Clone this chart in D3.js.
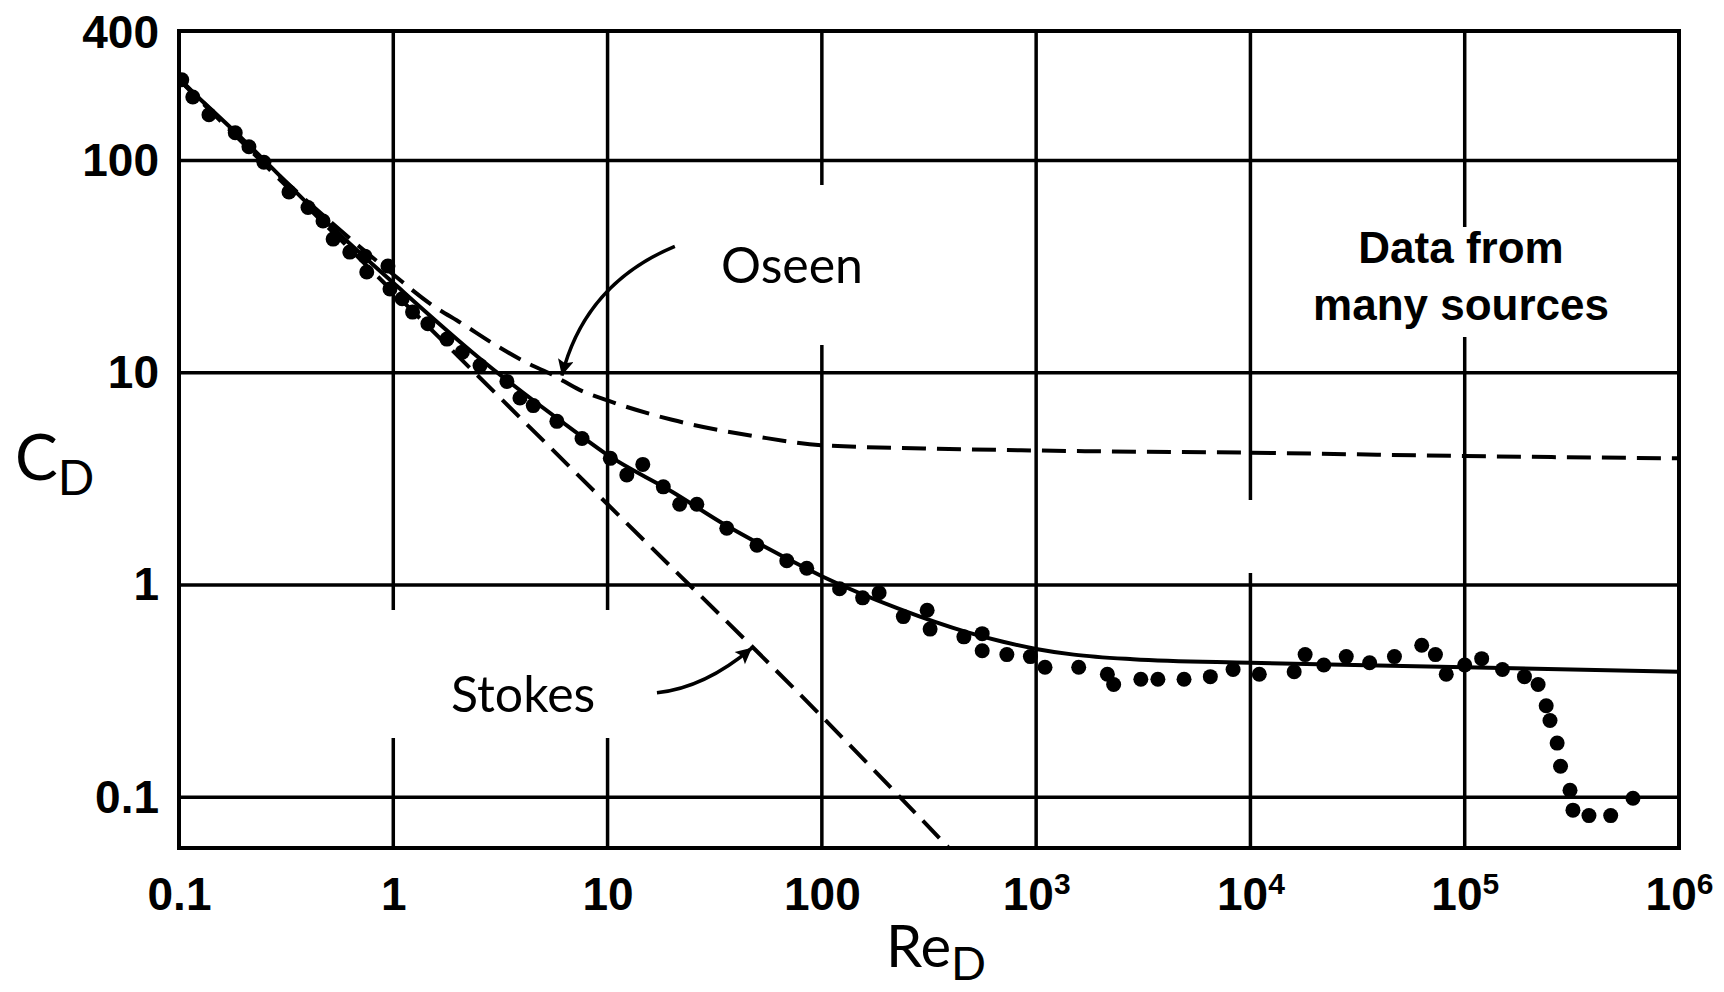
<!DOCTYPE html>
<html>
<head>
<meta charset="utf-8">
<script src="https://cdn.jsdelivr.net/npm/d3@7"></script>
<style>
  body { margin: 0; background: #fff; }
  .grid { stroke: #000; stroke-width: 3.5; }
  .frame { fill: none; stroke: #000; stroke-width: 4; }
  .knockout { fill: #fff; stroke: none; }
  .curve { fill: none; stroke: #000; stroke-width: 4; }
  .dashed { fill: none; stroke: #000; stroke-width: 4; stroke-dasharray: 24 11; }
  .dot { fill: #000; }
  .arrow { fill: none; stroke: #000; stroke-width: 3.5; }
  .tick-text { font-family: "Liberation Sans", Arial, sans-serif; font-weight: bold; font-size: 46px; fill: #000; }
  .note { font-family: Lato, "Open Sans", sans-serif; font-size: 50px; fill: #000; }
  .box-text { font-family: "Liberation Sans", Arial, sans-serif; font-weight: bold; font-size: 44px; fill: #000; }
  .axis-title { font-family: Lato, "Open Sans", sans-serif; fill: #000; }
</style>
</head>
<body>
<div id="js_chart"></div>
<script>
//////////////////////////////////////////////////////////////////////////////
// Chart values
//

var gridRe = [1, 10, 100, 1e3, 1e4, 1e5];
var gridCd = [0.1, 1, 10, 100];

var xTickValues = [0.1, 1, 10, 100, 1e3, 1e4, 1e5, 1e6];
var xTickBase   = ["0.1", "1", "10", "100", "10", "10", "10", "10"];
var xTickExp    = ["", "", "", "", "3", "4", "5", "6"];

var yTickValues = [0.1, 1, 10, 100, 400];
var yTickLabels = ["0.1", "1", "10", "100", "400"];

// measured points, "data from many sources"
var dataRe = [0.103, 0.116, 0.138, 0.183, 0.212, 0.249, 0.326, 0.40, 0.47, 0.524, 0.627, 0.737, 0.752,
              0.944, 0.965, 1.10, 1.23, 1.45, 1.78, 2.1, 2.54, 3.39, 3.9, 4.5, 5.8, 7.6,
              10.3, 12.3, 14.6, 18.2, 21.7, 26.1, 36, 49.8, 68.6, 85, 121, 155, 185, 240, 310, 320,
              460, 560, 560, 730, 940, 1100, 1580, 2150, 2300, 3080, 3700, 4900, 6500, 8300,
              1.1e4, 1.6e4, 1.8e4, 2.2e4, 2.8e4, 3.6e4, 4.7e4, 6.3e4, 7.3e4, 8.2e4, 1.0e5, 1.2e5,
              1.5e5, 1.9e5, 2.2e5, 2.4e5, 2.5e5, 2.7e5, 2.8e5, 3.1e5, 3.2e5, 3.8e5, 4.8e5, 6.1e5];
var dataCd = [240, 199, 164, 135, 116, 98, 71, 60, 51.8, 42.6, 37, 35.4, 29.8,
              31.8, 24.8, 22.3, 19.3, 17, 14.4, 12.5, 10.8, 9.1, 7.6, 7.0, 5.9, 4.9,
              3.95, 3.3, 3.7, 2.9, 2.4, 2.4, 1.85, 1.54, 1.3, 1.2, 0.96, 0.87, 0.92, 0.71, 0.76, 0.62,
              0.57, 0.59, 0.49, 0.47, 0.46, 0.41, 0.41, 0.38, 0.34, 0.36, 0.36, 0.36, 0.37, 0.40,
              0.38, 0.39, 0.47, 0.42, 0.46, 0.43, 0.46, 0.52, 0.47, 0.38, 0.42, 0.45,
              0.40, 0.37, 0.34, 0.27, 0.23, 0.18, 0.14, 0.108, 0.087, 0.082, 0.082, 0.099];

// solid curve through the data
var curveRe = [0.1, 0.2, 0.5, 1, 2.5, 7.4, 10, 20, 36, 50, 70, 100, 231, 475, 700, 1000, 1500, 2830, 1e4, 1e5, 1e6];
var curveCd = [240, 125, 50, 26.5, 11.8, 5.1, 4.1, 2.75, 1.9, 1.58, 1.32, 1.1, 0.77, 0.6, 0.54, 0.5, 0.47, 0.447, 0.43, 0.41, 0.39];

// Oseen dashed curve
var oseenRe = [0.1, 0.3, 1, 1.5, 2.1, 3, 4.3, 5.5, 7.4, 10, 20, 50, 100, 300, 1e3, 1e4, 1e5, 1e6];
var oseenCd = [244, 83, 29, 21, 17, 13.5, 11, 9.8, 8.3, 7.4, 6.0, 5.0, 4.55, 4.4, 4.3, 4.2, 4.05, 3.95];

// Stokes dashed line
var stokesRe = [0.1, 1, 10, 100, 390];
var stokesCd = [240, 24, 2.4, 0.24, 0.058];

// annotation arrows: tail, bend, tip (data coordinates)
var oseenArrow  = [[20.6, 39.4], [7.85, 26.2], [6.12, 9.69]];
var stokesArrow = [[17.0, 0.311], [28.4, 0.328], [47.2, 0.506]];

//////////////////////////////////////////////////////////////////////////////
// Drawing
//

var W = 1724, H = 992;
var plotL = 179, plotT = 31, plotR = 1679, plotB = 848;

var svg = d3.select("#js_chart").append("svg")
  .attr("width", W)
  .attr("height", H);

var x = d3.scaleLog().domain([0.1, 1e6]).range([plotL, plotR]);
var y = d3.scaleLog().domain([0.0577, 407]).range([plotB, plotT]);

var defs = svg.append("defs");

defs.append("marker")
  .attr("id", "head")
  .attr("viewBox", "0 0 10 10")
  .attr("refX", 10).attr("refY", 5)
  .attr("markerWidth", 27).attr("markerHeight", 16)
  .attr("markerUnits", "userSpaceOnUse")
  .attr("orient", "auto")
  .append("path")
  .attr("d", "M0,0 L10,5 L0,10 L2,5 z")
  .attr("fill", "#000");

defs.append("clipPath").attr("id", "plotclip")
  .append("rect")
  .attr("x", plotL).attr("y", plotT)
  .attr("width", plotR - plotL).attr("height", plotB - plotT);

// grid
svg.selectAll("line.gx").data(gridRe).enter().append("line")
  .attr("class", "grid gx")
  .attr("x1", function (d) { return x(d); }).attr("x2", function (d) { return x(d); })
  .attr("y1", plotT).attr("y2", plotB);

svg.selectAll("line.gy").data(gridCd).enter().append("line")
  .attr("class", "grid gy")
  .attr("x1", plotL).attr("x2", plotR)
  .attr("y1", function (d) { return y(d); }).attr("y2", function (d) { return y(d); });

// white boxes behind the labels (they cut the grid in the original)
var labelBoxes = [
  { x: 675, y: 185, w: 230, h: 160 },   // Oseen
  { x: 382, y: 610, w: 266, h: 128 },   // Stokes
  { x: 1310, y: 227, w: 305, h: 110 },  // Data from many sources
  { x: 1232, y: 500, w: 24, h: 73 }
];
svg.selectAll("rect.knockout").data(labelBoxes).enter().append("rect")
  .attr("class", "knockout")
  .attr("x", function (d) { return d.x; }).attr("y", function (d) { return d.y; })
  .attr("width", function (d) { return d.w; }).attr("height", function (d) { return d.h; });

svg.append("rect")
  .attr("class", "frame")
  .attr("x", plotL).attr("y", plotT)
  .attr("width", plotR - plotL).attr("height", plotB - plotT);

// curves
var line = d3.line()
  .x(function (d) { return x(d[0]); })
  .y(function (d) { return y(d[1]); })
  .curve(d3.curveMonotoneX);

var plot = svg.append("g").attr("clip-path", "url(#plotclip)");

plot.append("path").attr("class", "dashed")
  .attr("d", line(d3.zip(stokesRe, stokesCd)));

plot.append("path").attr("class", "dashed")
  .attr("d", line(d3.zip(oseenRe, oseenCd)));

plot.append("path").attr("class", "curve")
  .attr("d", line(d3.zip(curveRe, curveCd)));

plot.selectAll("circle").data(d3.zip(dataRe, dataCd)).enter().append("circle")
  .attr("class", "dot")
  .attr("cx", function (d) { return x(d[0]); })
  .attr("cy", function (d) { return y(d[1]); })
  .attr("r", 7.5);

// arrows
function arrowPath(p) {
  return "M" + x(p[0][0]) + "," + y(p[0][1]) +
         " Q" + x(p[1][0]) + "," + y(p[1][1]) +
         " " + x(p[2][0]) + "," + y(p[2][1]);
}
[oseenArrow, stokesArrow].forEach(function (a) {
  svg.append("path").attr("class", "arrow")
    .attr("d", arrowPath(a))
    .attr("marker-end", "url(#head)");
});

// axes (labels only, the grid is drawn above)
var xAxis = svg.append("g")
  .attr("transform", "translate(0," + plotB + ")")
  .call(d3.axisBottom(x).tickValues(xTickValues).tickSize(0).tickPadding(29)
    .tickFormat(function (d, i) { return xTickBase[i]; }));

var yAxis = svg.append("g")
  .attr("transform", "translate(" + plotL + ",0)")
  .call(d3.axisLeft(y).tickValues(yTickValues).tickSize(0).tickPadding(20)
    .tickFormat(function (d, i) { return yTickLabels[i]; }));

[xAxis, yAxis].forEach(function (g) {
  g.select(".domain").remove();
  g.attr("font-size", null).attr("font-family", null);
  g.selectAll("text").attr("class", "tick-text");
});

xAxis.selectAll("text").each(function (d, i) {
  if (xTickExp[i]) {
    d3.select(this).append("tspan")
      .attr("dy", -16)
      .attr("font-size", 30)
      .text(xTickExp[i]);
  }
});

// axis titles
var cd = svg.append("text").attr("class", "axis-title")
  .attr("x", 15).attr("y", 480).attr("font-size", 64).text("C");
cd.append("tspan").attr("dy", 15).attr("font-size", 48).text("D");

var re = svg.append("text").attr("class", "axis-title")
  .attr("x", 886).attr("y", 967).attr("font-size", 58).text("Re");
re.append("tspan").attr("dy", 13).attr("font-size", 46).text("D");

// annotations
svg.append("text").attr("class", "note").attr("x", 721).attr("y", 283).text("Oseen");
svg.append("text").attr("class", "note").attr("x", 451).attr("y", 712).text("Stokes");

svg.append("text").attr("class", "box-text").attr("text-anchor", "middle")
  .attr("x", 1461).attr("y", 263).text("Data from");
svg.append("text").attr("class", "box-text").attr("text-anchor", "middle")
  .attr("x", 1461).attr("y", 320).text("many sources");
</script>
</body>
</html>
